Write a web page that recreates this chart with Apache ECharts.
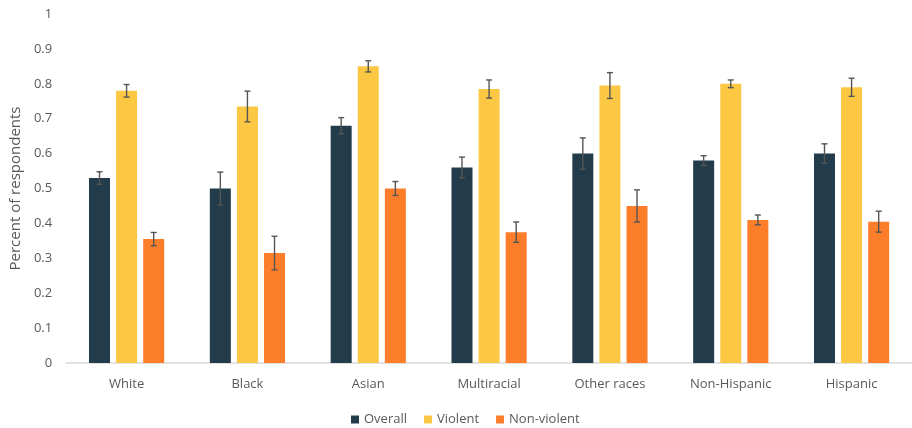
<!DOCTYPE html>
<html>
<head>
<meta charset="utf-8">
<script src="https://cdn.jsdelivr.net/npm/echarts@6/dist/echarts.min.js"></script>
<style>
  html, body { margin: 0; padding: 0; background: #ffffff; }
  #chart { width: 912px; height: 428px; }
</style>
</head>
<body>
<div id="chart"></div>
<script>
// Share of respondents by race / ethnicity, with margins of error
var categories = ['White', 'Black', 'Asian', 'Multiracial', 'Other races', 'Non-Hispanic', 'Hispanic'];
var seriesNames = ['Overall', 'Violent', 'Non-violent'];

var overall    = [0.53, 0.50, 0.68, 0.56, 0.60, 0.58, 0.60];
var violent    = [0.78, 0.735, 0.85, 0.785, 0.795, 0.80, 0.79];
var nonViolent = [0.355, 0.315, 0.50, 0.375, 0.45, 0.41, 0.405];

// half-width of each error bar
var overallErr    = [0.018, 0.047, 0.023, 0.030, 0.045, 0.014, 0.028];
var violentErr    = [0.018, 0.044, 0.016, 0.026, 0.037, 0.011, 0.026];
var nonViolentErr = [0.019, 0.048, 0.020, 0.029, 0.046, 0.014, 0.030];

var yTicks = [0, 0.1, 0.2, 0.3, 0.4, 0.5, 0.6, 0.7, 0.8, 0.9, 1];

var colors = ['#233c4b', '#fcc844', '#fd7e2a'];
var FONT = '"Open Sans", "Liberation Sans", sans-serif';
var BAR_W = 21;
var BAR_GAP = 0.29;

var values = [overall, violent, nonViolent];
var errors = [overallErr, violentErr, nonViolentErr];

function errorSeries(k) {
  var data = categories.map(function (c, i) {
    return [i, values[k][i] - errors[k][i], values[k][i] + errors[k][i]];
  });
  return {
    type: 'custom',
    name: seriesNames[k] + ' error',
    z: 5,
    silent: true,
    data: data,
    renderItem: function (params, api) {
      var i = api.value(0);
      var lo = api.coord([i, api.value(1)]);
      var hi = api.coord([i, api.value(2)]);
      var x = lo[0] + (k - 1) * BAR_W * (1 + BAR_GAP);
      var cap = 3;
      var style = { stroke: '#555555', lineWidth: 1.4 };
      return {
        type: 'group',
        children: [
          { type: 'line', shape: { x1: x, y1: lo[1], x2: x, y2: hi[1] }, style: style },
          { type: 'line', shape: { x1: x - cap, y1: lo[1], x2: x + cap, y2: lo[1] }, style: style },
          { type: 'line', shape: { x1: x - cap, y1: hi[1], x2: x + cap, y2: hi[1] }, style: style }
        ]
      };
    }
  };
}

var barSeries = seriesNames.map(function (name, k) {
  return {
    type: 'bar',
    name: name,
    data: values[k],
    barWidth: BAR_W,
    barGap: (BAR_GAP * 100) + '%',
    itemStyle: { color: colors[k] },
    z: 2
  };
});

var chart = echarts.init(document.getElementById('chart'));
chart.setOption({
  animation: false,
  textStyle: { fontFamily: FONT },
  grid: { left: 66, right: -11, top: 14, bottom: 65, containLabel: false },
  legend: {
    data: seriesNames,
    top: 413,
    left: 351,
    padding: 0,
    itemWidth: 8,
    itemHeight: 8,
    itemGap: 17,
    icon: 'rect',
    textStyle: { color: '#595959', fontSize: 13, fontFamily: FONT }
  },
  xAxis: {
    type: 'category',
    data: categories,
    axisLine: { lineStyle: { color: '#d9d9d9', width: 1.5 } },
    axisTick: { show: false },
    axisLabel: { color: '#595959', fontSize: 13, margin: 15, fontFamily: FONT }
  },
  yAxis: {
    type: 'value',
    min: yTicks[0],
    max: yTicks[yTicks.length - 1],
    interval: 0.1,
    name: 'Percent of respondents',
    nameLocation: 'middle',
    nameGap: 40,
    nameTextStyle: { color: '#595959', fontSize: 15, fontFamily: FONT },
    axisLine: { show: false },
    axisTick: { show: false },
    splitLine: { show: false },
    axisLabel: {
      color: '#595959',
      fontSize: 13,
      margin: 14,
      fontFamily: FONT,
      formatter: function (v) { return String(Math.round(v * 10) / 10); }
    }
  },
  series: barSeries.concat([errorSeries(0), errorSeries(1), errorSeries(2)])
});
</script>
</body>
</html>
